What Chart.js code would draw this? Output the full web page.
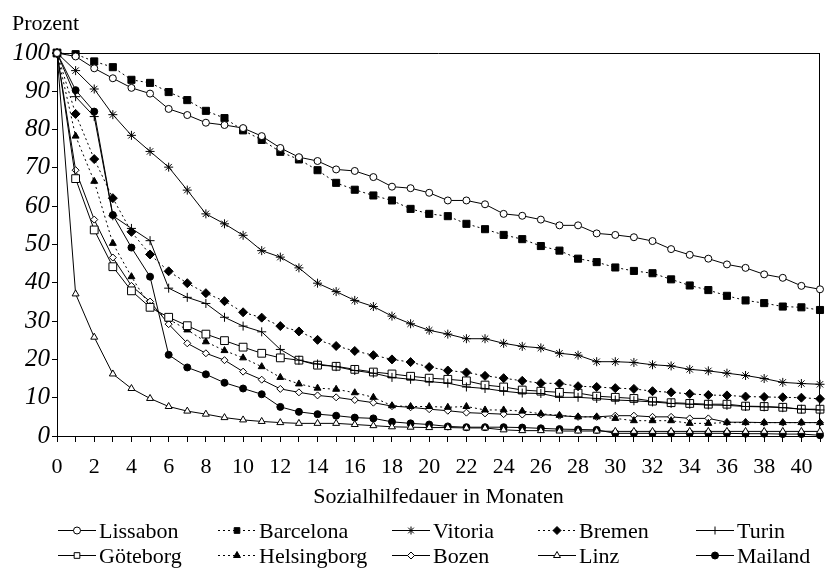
<!DOCTYPE html>
<html>
<head>
<meta charset="utf-8">
<script src="https://cdn.jsdelivr.net/npm/chart.js@4/dist/chart.umd.min.js"></script>
<style>
  html, body { margin: 0; padding: 0; background: #fff; }
  canvas { display: block; }
</style>
</head>
<body>
<canvas id="chart" width="832" height="568"></canvas>
<script>
// Months on the x axis
const months = [0, 1, 2, 3, 4, 5, 6, 7, 8, 9, 10, 11, 12, 13, 14, 15, 16, 17, 18, 19, 20,
  21, 22, 23, 24, 25, 26, 27, 28, 29, 30, 31, 32, 33, 34, 35, 36, 37, 38, 39, 40, 41];

// Share still receiving benefits (%)
const lissabon = [100, 99.1, 96.0, 93.4, 90.9, 89.4, 85.4, 83.8, 81.8, 81.2, 80.4, 78.3, 75.2, 72.8, 71.8, 69.6, 69.2, 67.6, 65.1, 64.7, 63.5,
  61.5, 61.5, 60.5, 58.0, 57.5, 56.5, 55.0, 55.0, 52.9, 52.5, 51.9, 50.9, 48.8, 47.3, 46.3, 44.8, 43.9, 42.2, 41.3, 39.2, 38.3];
const barcelona = [100, 99.7, 97.8, 96.3, 93.0, 92.2, 89.8, 87.7, 84.9, 83.0, 79.8, 77.3, 74.2, 72.2, 69.4, 66.1, 64.3, 62.8, 61.5, 59.3, 58.0,
  57.4, 55.4, 54.0, 52.5, 51.4, 49.6, 48.4, 46.3, 45.4, 44.0, 43.1, 42.5, 40.9, 39.3, 38.1, 36.6, 35.4, 34.7, 33.8, 33.6, 32.9];
const vitoria = [100, 95.4, 90.6, 83.9, 78.5, 74.3, 70.2, 64.2, 58.0, 55.4, 52.4, 48.4, 46.7, 43.9, 39.9, 37.7, 35.4, 33.8, 31.3, 29.3, 27.6,
  26.6, 25.4, 25.4, 24.2, 23.4, 23.0, 21.6, 21.1, 19.4, 19.4, 19.2, 18.6, 18.3, 17.4, 17.0, 16.4, 15.8, 15.0, 14.0, 13.7, 13.5];
const bremen = [100, 84.1, 72.3, 62.1, 53.3, 47.4, 43.0, 39.9, 37.3, 35.2, 32.3, 30.9, 28.7, 27.3, 25.1, 23.5, 22.2, 21.1, 20.0, 19.3, 18.0,
  17.1, 16.6, 15.7, 15.1, 14.4, 13.8, 13.7, 13.0, 12.8, 12.5, 12.3, 11.7, 11.4, 11.0, 10.7, 10.6, 10.3, 10.2, 10.1, 10.0, 9.7];
const turin = [100, 88.6, 83.4, 57.5, 54.2, 51.0, 38.6, 36.2, 34.6, 31.0, 28.7, 27.2, 22.6, 19.8, 18.8, 18.1, 17.1, 16.4, 15.3, 14.8, 14.2,
  13.8, 12.8, 12.4, 11.7, 11.2, 11.1, 10.1, 10.1, 9.8, 9.4, 9.2, 8.9, 8.5, 8.3, 8.1, 8.0, 7.7, 7.6, 7.4, 7.0, 6.8];
const goeteborg = [100, 67.2, 53.8, 44.2, 37.9, 33.6, 31.0, 28.8, 26.6, 24.9, 23.2, 21.6, 20.4, 19.8, 18.5, 18.2, 17.4, 16.7, 16.2, 15.6, 15.1,
  14.8, 14.4, 13.3, 12.8, 12.0, 11.7, 11.4, 11.2, 10.4, 10.1, 9.8, 9.1, 8.7, 8.5, 8.3, 8.3, 7.8, 7.7, 7.5, 7.0, 7.0];
const helsingborg = [100, 78.3, 66.5, 50.3, 41.6, 33.8, 30.5, 27.7, 24.6, 22.3, 20.4, 18.1, 15.3, 13.6, 12.5, 12.2, 11.3, 10.1, 7.9, 7.7, 7.7,
  7.5, 7.7, 6.8, 6.8, 6.5, 5.8, 5.4, 5.0, 5.0, 4.6, 4.0, 4.0, 4.0, 3.3, 3.3, 3.5, 3.5, 3.5, 3.5, 3.5, 3.5];
const bozen = [100, 69.4, 56.5, 46.6, 39.2, 35.1, 29.2, 24.2, 21.6, 19.8, 16.8, 14.7, 12.3, 11.4, 10.6, 10.1, 9.4, 8.7, 7.8, 7.5, 7.0,
  6.6, 6.1, 5.9, 5.7, 5.6, 5.6, 5.3, 5.0, 5.0, 5.3, 5.3, 5.0, 5.0, 4.6, 4.6, 3.6, 3.6, 3.5, 3.5, 3.5, 3.5];
const linz = [100, 37.1, 25.8, 16.2, 12.4, 9.8, 7.7, 6.5, 5.7, 4.8, 4.2, 3.8, 3.5, 3.3, 3.3, 3.3, 3.0, 2.7, 2.4, 2.3, 2.2,
  2.2, 2.1, 2.1, 1.6, 1.4, 1.4, 1.3, 1.3, 1.3, 1.2, 1.2, 1.2, 1.2, 1.2, 1.2, 1.2, 1.2, 1.2, 1.2, 1.2, 1.2];
const mailand = [100, 90.3, 84.7, 57.7, 49.2, 41.6, 21.2, 17.9, 16.1, 13.9, 12.4, 10.9, 7.6, 6.3, 5.7, 5.3, 4.8, 4.6, 3.7, 3.3, 3.0,
  2.5, 2.3, 2.3, 2.3, 2.2, 2.0, 1.8, 1.7, 1.6, 0.7, 0.7, 0.7, 0.7, 0.7, 0.7, 0.7, 0.6, 0.6, 0.5, 0.5, 0.2];

const yTicks = [0, 10, 20, 30, 40, 50, 60, 70, 80, 90, 100];

const FONT = "'Liberation Serif', 'Times New Roman', serif";

function series(label, values, pointStyle, filled, dotted, radius) {
  return {
    label: label,
    data: values.map((v, i) => ({ x: months[i], y: v })),
    borderColor: '#000',
    borderWidth: 1,
    borderDash: dotted ? [2, 3] : [],
    pointStyle: pointStyle,
    pointRadius: radius,
    pointBorderWidth: 1,
    pointBorderColor: '#000',
    pointBackgroundColor: filled ? '#000' : '#fff',
    tension: 0,
    clip: false
  };
}

const datasets = [
  series('Lissabon', lissabon, 'circle', false, false, 3.5),
  series('Barcelona', barcelona, 'rect', true, true, 5),
  series('Vitoria', vitoria, 'star', false, false, 4.5),
  series('Bremen', bremen, 'rectRot', true, true, 4.5),
  series('Turin', turin, 'cross', false, false, 4.5),
  series('Göteborg', goeteborg, 'rect', false, false, 5.5),
  series('Helsingborg', helsingborg, 'triangle', true, true, 4),
  series('Bozen', bozen, 'rectRot', false, false, 3.5),
  series('Linz', linz, 'triangle', false, false, 4),
  series('Mailand', mailand, 'circle', true, false, 3.5)
];

// Frame, y label and the two-row legend below the axis
const legendCols = [58, 218, 392, 538, 696];
const legendRows = [538, 563];

const extras = {
  id: 'extras',
  beforeDatasetsDraw(chart) {
    const { ctx, chartArea: a } = chart;
    ctx.save();
    ctx.strokeStyle = '#000';
    ctx.lineWidth = 1;
    ctx.beginPath();
    ctx.moveTo(a.left, Math.round(a.top) + 0.5);
    ctx.lineTo(a.right, Math.round(a.top) + 0.5);
    ctx.moveTo(Math.round(a.right) - 0.5, a.top);
    ctx.lineTo(Math.round(a.right) - 0.5, a.bottom);
    ctx.stroke();
    ctx.restore();
  },
  afterDraw(chart) {
    const ctx = chart.ctx;
    ctx.save();
    ctx.fillStyle = '#000';
    ctx.font = '22px ' + FONT;
    ctx.textAlign = 'left';
    ctx.textBaseline = 'alphabetic';
    ctx.fillText('Prozent', 12, 30);

    chart.data.datasets.forEach((ds, i) => {
      const x = legendCols[i % 5];
      const base = legendRows[Math.floor(i / 5)];
      const y = base - 7.5;
      ctx.strokeStyle = '#000';
      ctx.lineWidth = 1;
      ctx.setLineDash(ds.borderDash);
      ctx.beginPath();
      ctx.moveTo(x, y);
      ctx.lineTo(x + 38, y);
      ctx.stroke();
      ctx.setLineDash([]);
      ctx.fillStyle = ds.pointBackgroundColor;
      if (Chart.helpers && Chart.helpers.drawPoint) {
        Chart.helpers.drawPoint(ctx, {
          pointStyle: ds.pointStyle,
          radius: Math.min(ds.pointRadius, 4),
          rotation: 0,
          borderWidth: 1
        }, x + 19, y);
      }
      ctx.fillStyle = '#000';
      ctx.font = '22px ' + FONT;
      ctx.fillText(ds.label, x + 41, base);
    });
    ctx.restore();
  }
};

new Chart(document.getElementById('chart'), {
  type: 'line',
  data: { datasets: datasets },
  plugins: [extras],
  options: {
    responsive: false,
    animation: false,
    layout: { padding: { left: 12, right: 6, top: 53, bottom: 54 } },
    plugins: {
      legend: { display: false },
      tooltip: { enabled: false }
    },
    scales: {
      x: {
        type: 'linear',
        min: 0,
        max: 41,
        afterFit: (scale) => { scale.height = 78; },
        grid: { drawOnChartArea: false, tickLength: 6, color: '#000' },
        border: { color: '#000', width: 1 },
        ticks: {
          stepSize: 1,
          autoSkip: false,
          maxRotation: 0,
          minRotation: 0,
          padding: 12,
          color: '#000',
          font: { family: FONT, size: 22 },
          callback: (v) => (v % 2 === 0 && v <= 40 ? String(v) : '')
        },
        title: {
          display: true,
          text: 'Sozialhilfedauer in Monaten',
          color: '#000',
          font: { family: FONT, size: 22 }
        }
      },
      y: {
        min: 0,
        max: 100,
        afterFit: (scale) => { scale.width = 45; },
        afterBuildTicks: (scale) => { scale.ticks = yTicks.map(v => ({ value: v })); },
        grid: { drawOnChartArea: false, tickLength: 5, color: '#000' },
        border: { color: '#000', width: 1 },
        ticks: {
          padding: 2,
          color: '#000',
          font: { family: FONT, size: 25, style: 'italic' }
        }
      }
    }
  }
});
</script>
</body>
</html>
